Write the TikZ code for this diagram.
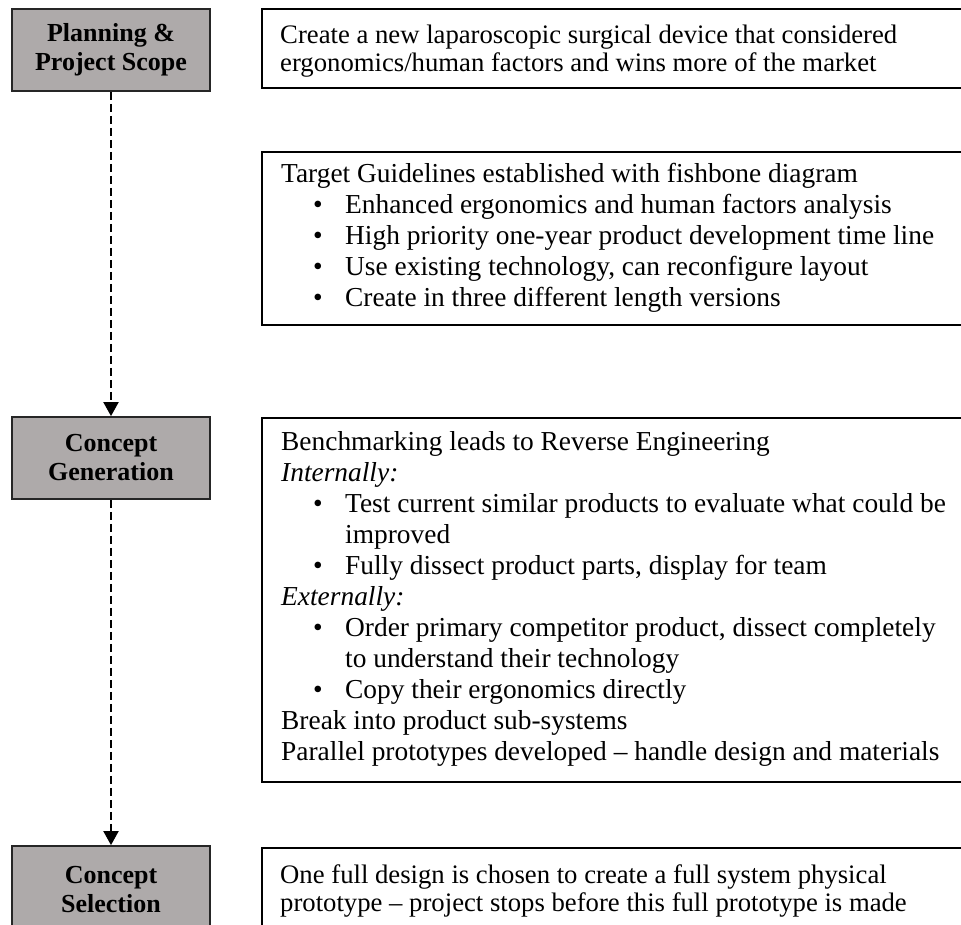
\documentclass[tikz,border=0pt]{standalone}
\usepackage{fontspec}
\setmainfont{Liberation Serif}
\usepackage{tikz}
\usetikzlibrary{arrows.meta}

\definecolor{phasegray}{RGB}{174,170,170}
\tikzset{
  phase/.style={draw=black!85, line width=1.8pt, fill=phasegray, minimum width=198pt,
    align=center, font=\fontsize{26}{29}\selectfont\bfseries, inner sep=0pt},
  info/.style={draw=black, line width=1.4pt},
  body/.style={align=left, anchor=north west, inner sep=0pt,
    font=\fontsize{26.7}{28}\selectfont},
  list/.style={body, font=\fontsize{27.4}{31}\selectfont},
  flow/.style={line width=2pt, dash pattern=on 8pt off 4pt, -{Triangle[length=14pt,width=15pt]}}
}
\newcommand{\bul}{\hspace*{32pt}\makebox[32pt][l]{\textbullet}}
\newcommand{\cont}{\hspace*{64pt}}

\begin{document}
\begin{tikzpicture}[x=1pt,y=-1pt]
\useasboundingbox (0,0) rectangle (961,924);
\clip (0,0) rectangle (961,924);
% phases on the left
\node[phase, minimum height=82pt] (plan) at (111,50) {Planning \&\\Project Scope};
\node[phase, minimum height=82pt] (gen) at (111,458) {Concept\\Generation};
\node[phase, minimum height=88pt] (sel) at (111,890) {Concept\\Selection};
\draw[flow] (plan.south) -- (gen.north);
\draw[flow] (gen.south) -- (sel.north);
% boxes on the right
\draw[info] (262,9) rectangle (966,88);
\node[body] (scope) at (280,23.4) {\strut Create a new laparoscopic surgical device that considered\\
ergonomics/human factors and wins more of the market};
%
\draw[info] (262,152) rectangle (966,325);
\node[list] (guide) at (281,160.3) {\strut Target Guidelines established with fishbone diagram\\
\bul Enhanced ergonomics and human factors analysis\\
\bul High priority one-year product development time line\\
\bul Use existing technology, can reconfigure layout\\
\bul Create in three different length versions};
%
\draw[info] (262,418) rectangle (966,782);
\node[list] (bench) at (281,428.3) {\strut Benchmarking leads to Reverse Engineering\\
\textit{Internally:}\\
\bul Test current similar products to evaluate what could be\\
\cont improved\\
\bul Fully dissect product parts, display for team\\
\textit{Externally:}\\
\bul Order primary competitor product, dissect completely\\
\cont to understand their technology\\
\bul Copy their ergonomics directly\\
Break into product sub-systems\\
Parallel prototypes developed -- handle design and materials};
%
\draw[info] (262,848) rectangle (966,940);
\node[body] (pick) at (280,863.4) {\strut One full design is chosen to create a full system physical\\
prototype -- project stops before this full prototype is made};
\end{tikzpicture}
\end{document}
